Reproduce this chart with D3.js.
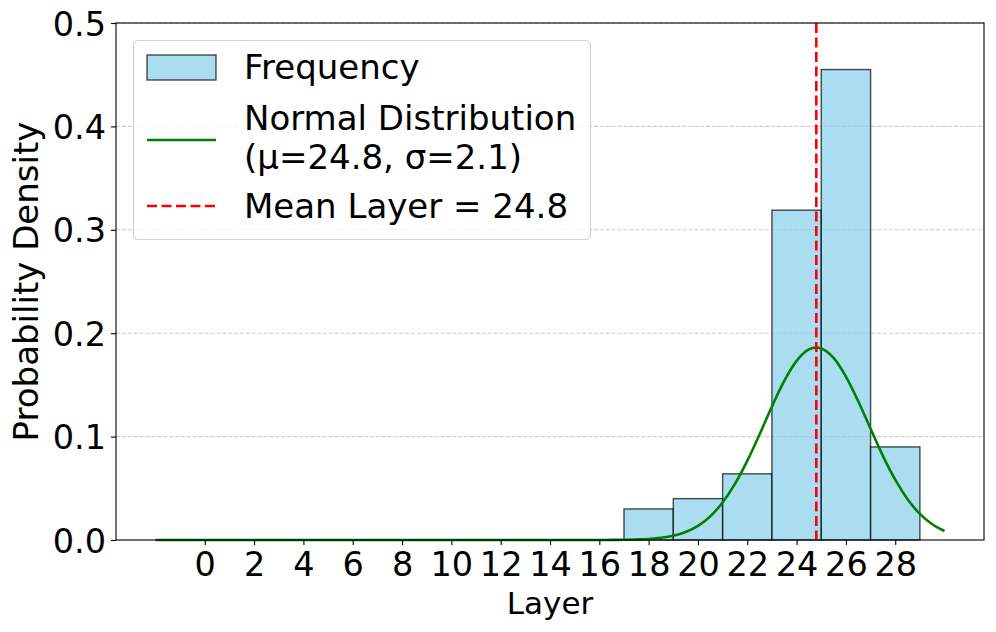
<!DOCTYPE html>
<html>
<head>
<meta charset="utf-8">
<script src="https://cdn.jsdelivr.net/npm/d3@7"></script>
<style>
  body { margin: 0; background: #fff; }
  svg text { font-family: "DejaVu Sans", sans-serif; fill: #000; }
</style>
</head>
<body>
<div id="chart"></div>
<script>
// histogram bins (left edge, density) – width 2
const binLefts = [17, 19, 21, 23, 25, 27];
const binWidth = 2;
const densities = [0.030, 0.040, 0.064, 0.319, 0.455, 0.090];

// fitted normal curve
const curveX = [-2, 0, 4, 8, 12, 14, 15, 16, 16.5, 17, 17.5, 18, 18.5, 19, 19.5, 20, 20.5, 21, 21.5, 22, 22.5,
  23, 23.5, 24, 24.5, 24.8, 25, 25.5, 26, 26.5, 27, 27.5, 28, 28.5, 29, 29.5, 30];
const curveY = [0, 0, 0, 0, 0, 0, 0, 0.0000, 0.0001, 0.0002, 0.0005, 0.0010, 0.0021, 0.0041, 0.0077, 0.0136, 0.0229, 0.0363, 0.0542, 0.0765, 0.1022,
  0.1291, 0.1538, 0.1732, 0.1843, 0.1862, 0.1853, 0.1761, 0.1581, 0.1342, 0.1076, 0.0814, 0.0583, 0.0394, 0.0252, 0.0152, 0.0087];

const meanLayer = 24.8;
const xTicks = d3.range(0, 30, 2);
const yTicks = [0, 0.1, 0.2, 0.3, 0.4, 0.5];

const W = 996, H = 632;
const m = { left: 116, right: 984, top: 23, bottom: 540 };

const svg = d3.select('#chart').append('svg')
  .attr('width', W).attr('height', H);

const x = d3.scaleLinear().domain([-3.6, 31.6]).range([m.left, m.right]);
const y = d3.scaleLinear().domain([0, 0.5]).range([m.bottom, m.top]);

// grid
svg.append('g').selectAll('line')
  .data(yTicks.slice(1))
  .enter().append('line')
  .attr('x1', m.left).attr('x2', m.right)
  .attr('y1', d => y(d)).attr('y2', d => y(d))
  .attr('stroke', '#cfcfcf')
  .attr('stroke-width', 1.1)
  .attr('stroke-dasharray', '4.1,1.8');

// bars
svg.append('g').selectAll('rect')
  .data(binLefts.map((b, i) => ({ b, v: densities[i] })))
  .enter().append('rect')
  .attr('x', d => x(d.b))
  .attr('width', d => x(d.b + binWidth) - x(d.b))
  .attr('y', d => y(d.v))
  .attr('height', d => y(0) - y(d.v))
  .attr('fill', 'skyblue').attr('fill-opacity', 0.7)
  .attr('stroke', '#000').attr('stroke-opacity', 0.7)
  .attr('stroke-width', 1.4);

// normal curve
const line = d3.line()
  .x(d => x(d[0])).y(d => y(d[1]))
  .curve(d3.curveMonotoneX);
svg.append('path')
  .datum(curveX.map((v, i) => [v, curveY[i]]))
  .attr('d', line)
  .attr('fill', 'none')
  .attr('stroke', 'green')
  .attr('stroke-width', 2.6);

// mean line
svg.append('line')
  .attr('x1', x(meanLayer)).attr('x2', x(meanLayer))
  .attr('y1', m.top).attr('y2', m.bottom)
  .attr('stroke', 'red')
  .attr('stroke-width', 2.6)
  .attr('stroke-dasharray', '10,4.5');

// axes
const xAxis = svg.append('g')
  .attr('transform', `translate(0,${m.bottom})`)
  .call(d3.axisBottom(x).tickValues(xTicks).tickSize(5).tickPadding(6).tickFormat(d3.format('d')));
const yAxis = svg.append('g')
  .attr('transform', `translate(${m.left},0)`)
  .call(d3.axisLeft(y).tickValues(yTicks).tickSize(5).tickPadding(5).tickFormat(d3.format('.1f')));
[xAxis, yAxis].forEach(g => {
  g.select('.domain').remove();
  g.selectAll('.tick line').attr('stroke', '#000').attr('stroke-width', 1.1);
  g.selectAll('.tick text').attr('font-size', 33.5).attr('font-family', '"DejaVu Sans", sans-serif');
});
xAxis.selectAll('.tick text').attr('dy', '0.76em');
yAxis.selectAll('.tick text').attr('dy', '0.36em');

// frame
svg.append('rect')
  .attr('x', m.left).attr('y', m.top)
  .attr('width', m.right - m.left).attr('height', m.bottom - m.top)
  .attr('fill', 'none').attr('stroke', '#000').attr('stroke-width', 1.1);

// axis labels
svg.append('text')
  .attr('x', (m.left + m.right) / 2).attr('y', 614)
  .attr('text-anchor', 'middle')
  .attr('font-size', 31)
  .text('Layer');
svg.append('text')
  .attr('transform', `translate(38,${(m.top + m.bottom) / 2}) rotate(-90)`)
  .attr('text-anchor', 'middle')
  .attr('font-size', 34)
  .text('Probability Density');

// legend
const lg = svg.append('g');
lg.append('rect')
  .attr('x', 133.5).attr('y', 40.5).attr('width', 457).attr('height', 199)
  .attr('rx', 5)
  .attr('fill', '#fff').attr('fill-opacity', 0.8)
  .attr('stroke', '#d0d0d0').attr('stroke-width', 1.1);
lg.append('rect')
  .attr('x', 147).attr('y', 55).attr('width', 69).attr('height', 25)
  .attr('fill', 'skyblue').attr('fill-opacity', 0.7)
  .attr('stroke', '#000').attr('stroke-opacity', 0.7).attr('stroke-width', 1.4);
lg.append('line')
  .attr('x1', 147).attr('x2', 216).attr('y1', 140).attr('y2', 140)
  .attr('stroke', 'green').attr('stroke-width', 2.6);
lg.append('line')
  .attr('x1', 147).attr('x2', 216).attr('y1', 206).attr('y2', 206)
  .attr('stroke', 'red').attr('stroke-width', 2.6).attr('stroke-dasharray', '10,4.5');
const legendText = [
  ['Frequency', 79],
  ['Normal Distribution', 130],
  ['(μ=24.8, σ=2.1)', 169],
  ['Mean Layer = 24.8', 218]
];
lg.selectAll('text.lbl')
  .data(legendText)
  .enter().append('text')
  .attr('class', 'lbl')
  .attr('x', 244).attr('y', d => d[1])
  .attr('font-size', 34)
  .text(d => d[0]);
</script>
</body>
</html>
